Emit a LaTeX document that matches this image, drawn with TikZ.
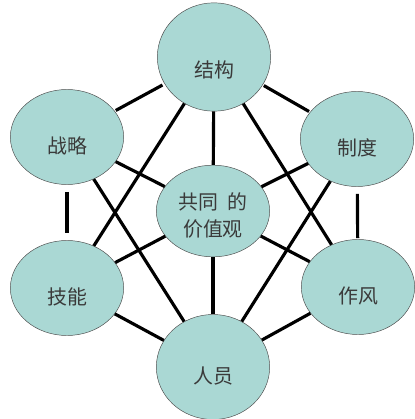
\documentclass[tikz,border=0pt]{standalone}
\usepackage{fontspec}
\setmainfont{Noto Sans CJK SC}
\usetikzlibrary{shapes.geometric}
\definecolor{bubblefill}{RGB}{170,216,212}
\definecolor{bubbletext}{RGB}{58,58,58}
\tikzset{bubble/.style = {ellipse, draw = black!70, thin, fill = bubblefill, minimum width = 3.4cm, minimum height = 2.85cm, inner sep = 0pt}}
\tikzset{lbl/.style = {text = bubbletext, font = \fontsize{17}{23}\selectfont, align = center, yshift = -8pt}}
\tikzset{link/.style = {line width = 2.7pt, black}}

\begin{document}
\begin{tikzpicture}[x = 0.03cm, y = -0.03cm]
\useasboundingbox (0,0) rectangle (414,419);
\node [bubble, minimum height = 3.25cm, label = {[lbl, yshift = -3pt]center:结构}] (jg) at (214,57) {};
\node [bubble, label = {[lbl]center:战略}] (zl) at (67,137) {};
\node [bubble, label = {[lbl]center:制度}] (zd) at (357,139) {};
\node [bubble, minimum height = 2.75cm, label = {[lbl, yshift = 4pt]center:共同\ \ 的\\价值观}] (gt) at (213,211) {};
\node [bubble, label = {[lbl]center:技能}] (jn) at (67,288) {};
\node [bubble, label = {[lbl]center:作风}] (zf) at (358,287) {};
\node [bubble, minimum height = 3.15cm, label = {[lbl]center:人员}] (ry) at (213,367) {};
\draw [link, shorten <= 2pt, shorten >= 1pt] (jg) -- (zl);
\draw [link, shorten <= 1pt, shorten >= 1pt] (jg) -- (zd);
\draw [link] (jg) -- (gt);
\draw [link] (jg) -- (jn);
\draw [link] (jg) -- (zf);
\draw [link] (zl) -- (gt);
\draw [link, shorten <= 6pt, shorten >= 6pt] (zl) -- (jn);
\draw [link] (zl) -- (ry);
\draw [link] (zd) -- (gt);
\draw [link, shorten <= 6pt, shorten >= 1pt] (zd) -- (zf);
\draw [link] (zd) -- (ry);
\draw [link] (gt) -- (jn);
\draw [link] (gt) -- (zf);
\draw [link] (gt) -- (ry);
\draw [link] (jn) -- (ry);
\draw [link] (zf) -- (ry);
\end{tikzpicture}
\end{document}
